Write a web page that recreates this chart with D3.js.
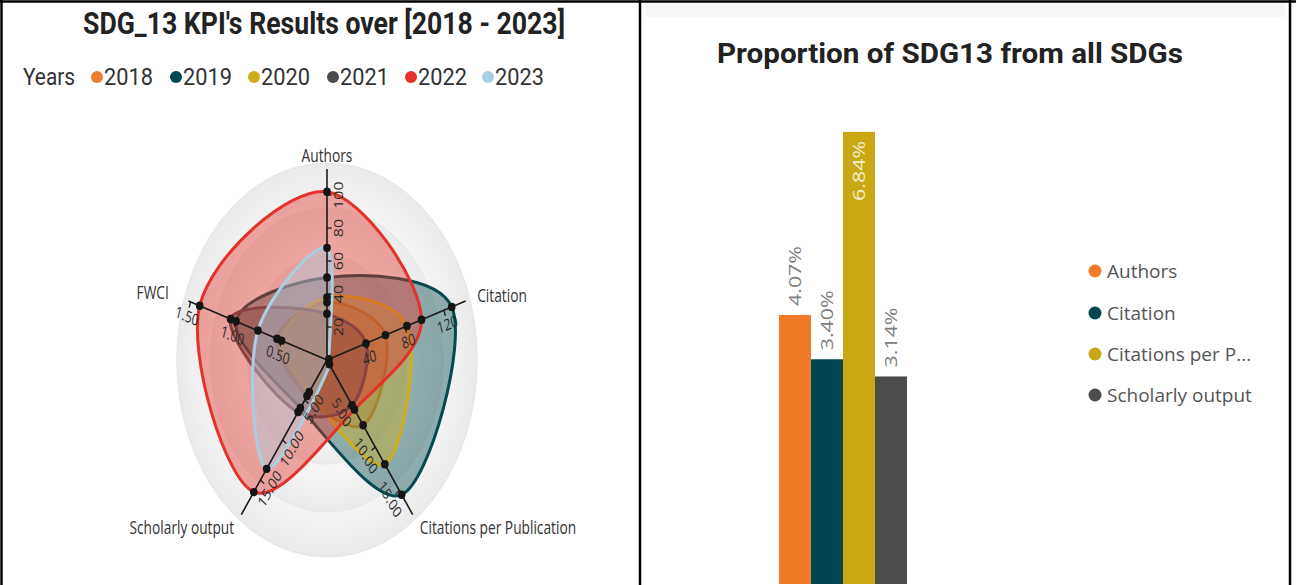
<!DOCTYPE html>
<html><head><meta charset="utf-8">
<script src="https://cdn.jsdelivr.net/npm/d3@7"></script>
<style>body{margin:0;background:#fff;} svg{display:block}</style>
</head><body><svg id="c" width="1296" height="585"></svg>
<script>
// ---------- data ----------
const axes = ["Authors", "Citation", "Citations per Publication", "Scholarly output", "FWCI"];
const axisMax = [114, 140, 17.5, 19, 1.5];
const axisTicks = [[20, 40, 60, 80, 100], [40, 80, 120], [5, 10, 15], [5, 10, 15], [0.5, 1, 1.5]];
const axisTickFormat = ["d", "d", ".2f", ".2f", ".2f"];
const years = ["2018", "2019", "2020", "2021", "2022", "2023"];
const v2018 = [35, 60, 7.5, 4.5, 0.55];
const v2019 = [50, 128, 15.5, 6, 1.0];
const v2020 = [38, 82, 12.0, 4, 0.5];
const v2021 = [28, 40, 5.2, 6.5, 1.06];
const v2022 = [102, 97, 5.7, 16.5, 1.40];
const v2023 = [68, 2, 0.5, 13.6, 0.76];
const yearValues = [v2018, v2019, v2020, v2021, v2022, v2023];
const yearColors = ["#EE7D2E", "#03494F", "#CFAE1C", "#4C4C4E", "#E2322B", "#A9D0E2"];

const barCategories = ["Authors", "Citation", "Citations per Publication", "Scholarly output"];
const barLegendLabels = ["Authors", "Citation", "Citations per P...", "Scholarly output"];
const barValues = [4.07, 3.40, 6.84, 3.14];
const barColors = ["#F07A28", "#024750", "#C9A814", "#4B4C4E"];

// ---------- setup ----------
const svg = d3.select("#c");
const defs = svg.append("defs");

// borders
svg.append("rect").attr("x", 645).attr("y", 3).attr("width", 640).attr("height", 14).attr("fill", "#f7f7f7");
const border = svg.append("g").attr("stroke", "#000").attr("stroke-width", 2.5);
border.append("line").attr("x1", 1.5).attr("y1", 0).attr("x2", 1.5).attr("y2", 585);
border.append("line").attr("x1", 0).attr("y1", 1.5).attr("x2", 1296).attr("y2", 1.5);
border.append("line").attr("x1", 640).attr("y1", 0).attr("x2", 640).attr("y2", 585);
border.append("line").attr("x1", 1290).attr("y1", 0).attr("x2", 1290).attr("y2", 585);

// ---------- left title & legend ----------
svg.append("text").attr("x", 324).attr("y", 34).attr("text-anchor", "middle")
  .attr("font-family", "Roboto, 'DejaVu Sans'").attr("font-weight", 700).attr("font-size", 31)
  .attr("fill", "#222").attr("textLength", 482).attr("lengthAdjust", "spacingAndGlyphs")
  .text("SDG_13 KPI's Results over [2018 - 2023]");

svg.append("text").attr("x", 23).attr("y", 85).attr("font-family", "Roboto, 'DejaVu Sans'")
  .attr("font-size", 24).attr("fill", "#333").attr("textLength", 52).attr("lengthAdjust", "spacingAndGlyphs")
  .text("Years");
const legX = [97, 176, 254, 333, 411, 488];
const leg = svg.append("g").selectAll("g").data(years).join("g")
  .attr("transform", (d, i) => `translate(${legX[i]},77)`);
leg.append("circle").attr("r", 6).attr("fill", (d, i) => yearColors[i]);
leg.append("text").attr("x", 7).attr("y", 8).attr("font-family", "Roboto, 'DejaVu Sans'")
  .attr("font-size", 24).attr("fill", "#333").attr("textLength", 49).attr("lengthAdjust", "spacingAndGlyphs")
  .text(d => d);

// ---------- radar ----------
const cx = 327, cy = 360, sx = 0.763, R = 188;
const g = svg.append("g").attr("transform", `translate(${cx},${cy}) scale(${sx},1)`);
const n = axes.length;
const ang = i => i * 2 * Math.PI / n;
const scales = axisMax.map(m => d3.scaleLinear().domain([0, m]).range([0, R]));

// background rings
const ringR = [197, 152, 104];
ringR.forEach((r, k) => {
  const id = "rg" + k;
  const gr = defs.append("radialGradient").attr("id", id);
  gr.append("stop").attr("offset", "0%").attr("stop-color", "#f9f9f9");
  gr.append("stop").attr("offset", "75%").attr("stop-color", "#f5f5f5");
  gr.append("stop").attr("offset", "100%").attr("stop-color", "#eaeaea");
  g.append("circle").attr("r", r).attr("fill", `url(#${id})`)
    .attr("stroke", "#e6e6e6").attr("stroke-width", 1).attr("vector-effect", "non-scaling-stroke");
});

// series
const line = d3.lineRadial()
  .angle((d, i) => ang(i))
  .radius((d, i) => scales[i](d))
  .curve(d3.curveCatmullRomClosed.alpha(0.5));

g.append("g").selectAll("path").data(yearValues).join("path")
  .attr("d", d => line(d))
  .attr("fill", (d, i) => yearColors[i]).attr("fill-opacity", 0.42)
  .attr("stroke", (d, i) => yearColors[i]).attr("stroke-width", 3)
  .attr("vector-effect", "non-scaling-stroke");

// axes
const axG = g.append("g");
axes.forEach((name, i) => {
  const a = ang(i);
  const ux = Math.sin(a), uy = -Math.cos(a);
  axG.append("line").attr("x1", 0).attr("y1", 0).attr("x2", ux * (R + 3)).attr("y2", uy * (R + 3))
    .attr("stroke", "#1a1a1a").attr("stroke-width", 1.6).attr("vector-effect", "non-scaling-stroke");
  let th = a * 180 / Math.PI - 90;
  if (th > 90) th -= 180;
  if (th < -90) th += 180;
  const tr = th * Math.PI / 180;
  const dx = -Math.sin(tr), dy = Math.cos(tr);
  const fmt = d3.format(axisTickFormat[i]);
  axisTicks[i].forEach(t => {
    const r = scales[i](t);
    const px = ux * r, py = uy * r;
    axG.append("line").attr("x1", px).attr("y1", py).attr("x2", px + dx * 6).attr("y2", py + dy * 6)
      .attr("stroke", "#1a1a1a").attr("stroke-width", 1.3).attr("vector-effect", "non-scaling-stroke");
    axG.append("text")
      .attr("transform", `translate(${px + dx * 15},${py + dy * 15}) rotate(${th})`)
      .attr("text-anchor", "middle").attr("dy", "0.35em")
      .attr("font-family", "'Open Sans', 'DejaVu Sans'").attr("font-size", 16).attr("fill", "#2a2a2a")
      .text(fmt(t));
  });
  // axis label
  const L = i === 0 ? R + 10 : (i === 4 ? R + 30 : R + 19);
  const lx = ux * L, ly = uy * L;
  const anchor = Math.abs(ux) < 0.1 ? "middle" : (ux > 0 ? "start" : "end");
  axG.append("text").attr("x", lx).attr("y", ly).attr("dy", i === 0 ? "0" : "0.35em")
    .attr("text-anchor", anchor)
    .attr("font-family", "'Open Sans', 'DejaVu Sans'").attr("font-size", 18).attr("fill", "#333")
    .text(name);
});

// data points
g.append("g").selectAll("g").data(yearValues).join("g")
  .selectAll("ellipse").data(d => d).join("ellipse")
  .attr("cx", (d, i) => Math.sin(ang(i)) * scales[i](d))
  .attr("cy", (d, i) => -Math.cos(ang(i)) * scales[i](d))
  .attr("rx", 4.5 / sx * 0.85).attr("ry", 4.2)
  .attr("fill", "#151515");

// ---------- right: bar chart ----------
svg.append("text").attr("x", 950).attr("y", 63).attr("text-anchor", "middle")
  .attr("font-family", "Roboto, 'DejaVu Sans'").attr("font-weight", 700).attr("font-size", 27)
  .attr("fill", "#222").attr("textLength", 466).attr("lengthAdjust", "spacingAndGlyphs")
  .text("Proportion of SDG13 from all SDGs");

const xb = d3.scaleBand().domain(barCategories).range([779, 907]).padding(0);
const yb = d3.scaleLinear().domain([0, 7]).range([584, 584 - 7 * 66.1]);

svg.append("g").selectAll("rect").data(barValues).join("rect")
  .attr("x", (d, i) => xb(barCategories[i])).attr("width", xb.bandwidth())
  .attr("y", d => yb(d)).attr("height", d => yb(0) - yb(d))
  .attr("fill", (d, i) => barColors[i]);

const fmtPct = d => d3.format(".2f")(d) + "%";
svg.append("g").selectAll("text").data(barValues).join("text")
  .attr("transform", (d, i) => {
    const x = xb(barCategories[i]) + xb.bandwidth() / 2;
    const inside = yb(d) - 75 < 110;
    const y = inside ? yb(d) + 9 : yb(d) - 9;
    return `translate(${x},${y}) rotate(-90)`;
  })
  .attr("text-anchor", d => (yb(d) - 75 < 110) ? "end" : "start")
  .attr("dy", "0.35em")
  .attr("font-family", "'Open Sans', 'DejaVu Sans'").attr("font-size", 17)
  .attr("fill", d => (yb(d) - 75 < 110) ? "#f4efd2" : "#7c7c7c")
  .attr("textLength", 60).attr("lengthAdjust", "spacingAndGlyphs")
  .text(fmtPct);

// legend right
const lgY = [271, 313, 354, 395];
const lg = svg.append("g").selectAll("g").data(barLegendLabels).join("g")
  .attr("transform", (d, i) => `translate(1095,${lgY[i]})`);
lg.append("circle").attr("r", 6.5).attr("fill", (d, i) => barColors[i]);
lg.append("text").attr("x", 12).attr("dy", "0.35em")
  .attr("font-family", "'Open Sans', 'DejaVu Sans'").attr("font-size", 19).attr("fill", "#555")
  .text(d => d);
</script></body></html>
